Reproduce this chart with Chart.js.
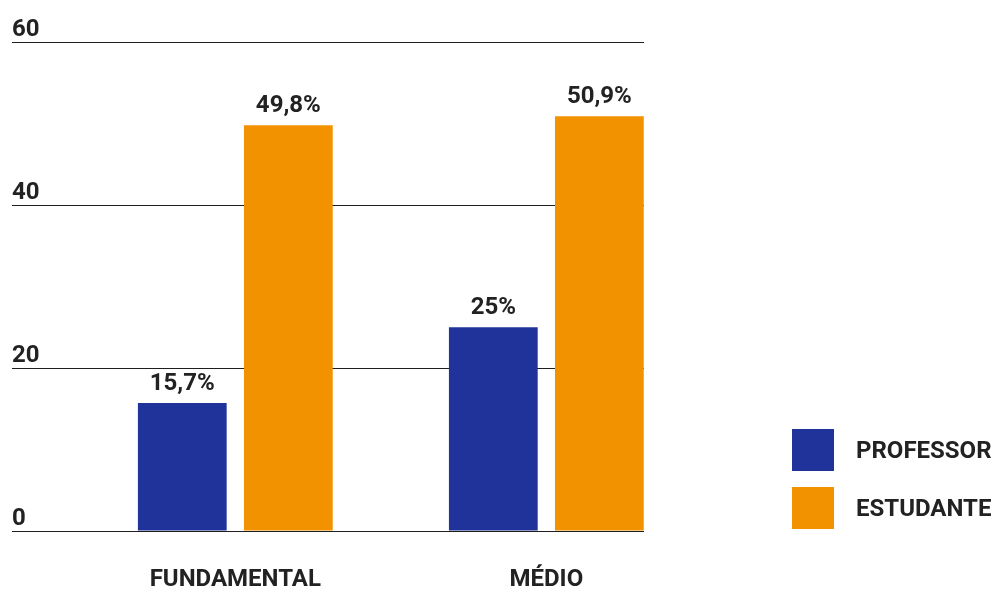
<!doctype html>
<html lang="pt-BR">
<head>
<meta charset="utf-8">
<title>Professor x Estudante</title>
<script src="https://cdn.jsdelivr.net/npm/chart.js"></script>
<style>
  html, body { margin: 0; padding: 0; background: #fff; }
  #wrap { position: relative; width: 997px; height: 592px; }
  #grafico { position: absolute; left: 0; top: 0; }
  #legenda { position: absolute; left: 792px; top: 429px; margin: 0; padding: 0; list-style: none;
             font: bold 24px Roboto, sans-serif; color: #222; }
  #legenda li { display: flex; align-items: center; height: 42px; margin-bottom: 16px; }
  #legenda .caixa { width: 42px; height: 42px; margin-right: 22px; }
</style>
</head>
<body>
<div id="wrap">
  <canvas id="grafico" width="997" height="592"></canvas>
  <ul id="legenda"></ul>
</div>
<script>
const categorias = ['FUNDAMENTAL', 'MÉDIO'];
const series = ['PROFESSOR', 'ESTUDANTE'];
const professor = [15.7, 25];
const estudante = [49.8, 50.9];
const ticksY = [0, 20, 40, 60];
const cores = ['#20339a', '#f39200'];

const fonte = { family: 'Roboto', size: 24, weight: 'bold' };
const corTexto = '#222';

// 15.7 -> "15,7%"
function formata(v) {
  return String(v).replace('.', ',') + '%';
}

// valores acima de cada barra
const rotulos = {
  id: 'rotulos',
  afterDatasetsDraw(chart) {
    const ctx = chart.ctx;
    ctx.save();
    ctx.font = 'bold 24px Roboto';
    ctx.fillStyle = corTexto;
    ctx.textAlign = 'center';
    ctx.textBaseline = 'alphabetic';
    chart.data.datasets.forEach((ds, i) => {
      chart.getDatasetMeta(i).data.forEach((barra, j) => {
        ctx.fillText(formata(ds.data[j].y), barra.x, barra.y - 13);
      });
    });
    ctx.restore();
  }
};

const valores = [professor, estudante];

const chart = new Chart(document.getElementById('grafico'), {
  type: 'bar',
  data: {
    datasets: series.map((nome, i) => ({
      label: nome,
      data: valores[i].map((v, j) => ({ x: j, y: v })),
      backgroundColor: cores[i],
      borderWidth: 0,
      categoryPercentage: 0.682,
      barPercentage: 0.837
    }))
  },
  options: {
    responsive: false,
    animation: false,
    // o eixo x tem padding dobrado pelo Chart.js, por isso o bottom negativo
    layout: { padding: { left: 12, right: 353, top: 42, bottom: -37 } },
    plugins: {
      legend: { display: false },
      tooltip: { enabled: false }
    },
    scales: {
      x: {
        type: 'linear',
        offset: false,
        bounds: 'data',
        min: -0.718,
        max: 1.314,
        afterBuildTicks: s => { s.ticks = categorias.map((c, i) => ({ value: i })); },
        grid: { display: false, drawTicks: false },
        border: { display: false },
        ticks: {
          padding: 37,
          color: corTexto,
          font: { ...fonte, lineHeight: 1 },
          maxRotation: 0,
          autoSkip: false,
          callback: v => categorias[v]
        }
      },
      y: {
        min: 0,
        max: 60,
        afterBuildTicks: s => { s.ticks = ticksY.map(v => ({ value: v })); },
        border: { display: false },
        grid: { color: '#1e1e1e', lineWidth: 1, drawTicks: false },
        ticks: {
          mirror: true,
          padding: 0,
          labelOffset: -12,
          color: corTexto,
          font: fonte
        }
      }
    }
  },
  plugins: [rotulos]
});

// legenda em HTML com as cores das séries
const legenda = document.getElementById('legenda');
chart.data.datasets.forEach(ds => {
  const li = document.createElement('li');
  const caixa = document.createElement('span');
  caixa.className = 'caixa';
  caixa.style.background = ds.backgroundColor;
  li.appendChild(caixa);
  li.appendChild(document.createTextNode(ds.label));
  legenda.appendChild(li);
});
</script>
</body>
</html>
